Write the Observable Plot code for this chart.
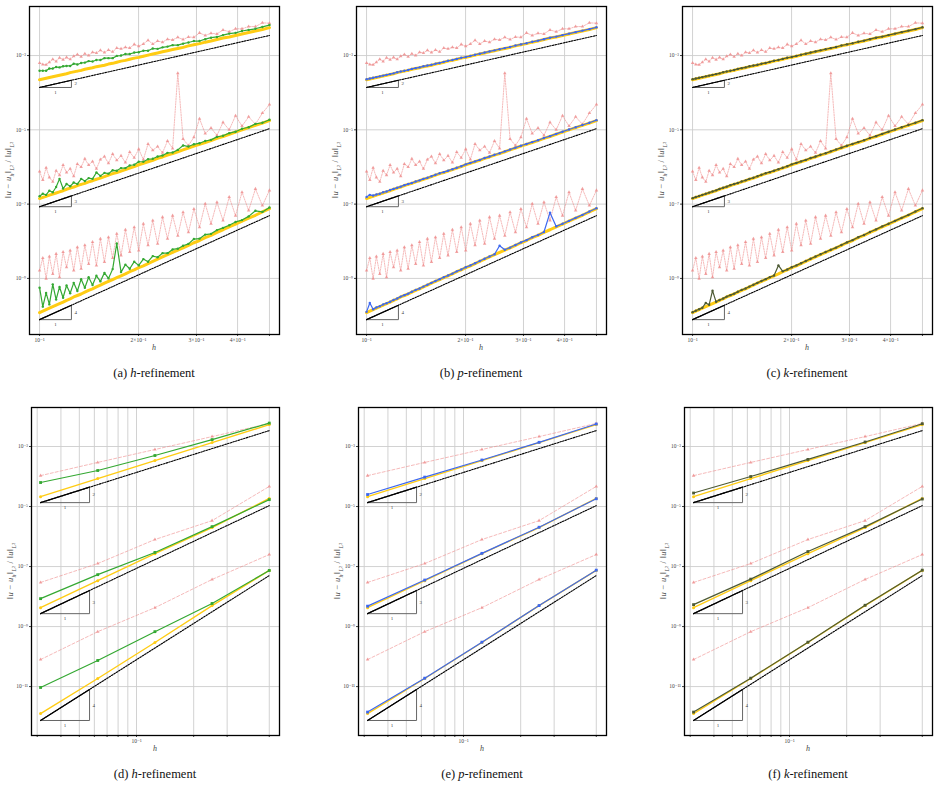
<!DOCTYPE html>
<html><head><meta charset="utf-8">
<script src="https://cdn.jsdelivr.net/npm/d3@7"></script>
<script src="https://cdn.jsdelivr.net/npm/@observablehq/plot@0.6"></script>
<style>
body{margin:0;background:#fff;}
#root{position:relative;width:939px;height:787px;font-family:"Liberation Serif","DejaVu Serif",serif;color:#222;}
.lbl{position:absolute;transform:translate(-50%,-50%);white-space:nowrap;}
.cap{font-size:12.5px;color:#111;}
.ytitle{font-size:8.5px;color:#444;letter-spacing:0.3px;}
.xtitle{font-size:8px;color:#444;font-style:italic;}
sub{font-size:70%;}
</style></head>
<body><div id="root"></div>
<script>
// ---------- top row (many h values) ----------
const hTop = [0.1000,0.1023,0.1047,0.1071,0.1097,0.1123,0.1150,0.1179,0.1208,0.1239,0.1270,0.1303,0.1338,0.1373,0.1410,0.1449,0.1489,0.1531,0.1575,0.1620,0.1668,0.1717,0.1769,0.1824,0.1880,0.1940,0.2002,0.2068,0.2137,0.2209,0.2285,0.2365,0.2449,0.2538,0.2632,0.2731,0.2836,0.2946,0.3064,0.3189,0.3321,0.3462,0.3612,0.3772,0.3943,0.4126,0.4322,0.4532,0.4758,0.5000];
// log10 of relative L2 error
const red1 = [-3.20,-3.24,-3.25,-3.18,-3.10,-3.16,-3.06,-3.11,-3.05,-3.10,-3.02,-2.97,-3.03,-2.95,-3.00,-2.91,-2.93,-2.86,-2.92,-2.85,-2.90,-2.80,-2.82,-2.78,-2.80,-2.70,-2.75,-2.69,-2.59,-2.69,-2.61,-2.64,-2.56,-2.58,-2.51,-2.57,-2.50,-2.51,-2.39,-2.46,-2.40,-2.42,-2.31,-2.36,-2.28,-2.28,-2.22,-2.22,-2.12,-2.13];
const red2 = [-6.12,-6.35,-6.02,-6.28,-6.40,-6.10,-6.22,-5.95,-6.15,-6.05,-6.25,-5.92,-6.00,-5.78,-5.95,-5.85,-6.05,-5.80,-5.72,-5.90,-5.65,-5.82,-5.70,-5.88,-5.60,-5.75,-5.52,-5.80,-5.38,-5.55,-5.45,-5.62,-5.30,-5.50,-3.48,-5.25,-5.42,-5.20,-4.70,-5.10,-4.95,-5.15,-4.80,-5.00,-4.62,-4.90,-4.65,-4.85,-4.55,-4.32];
const red3 = [-8.79,-8.45,-9.01,-8.41,-8.88,-8.34,-8.97,-8.29,-8.70,-8.25,-8.79,-8.16,-8.74,-8.11,-8.61,-8.02,-8.65,-7.93,-8.56,-7.89,-8.45,-7.80,-8.38,-7.69,-8.29,-7.62,-8.25,-7.53,-8.11,-7.44,-8.07,-7.35,-7.93,-7.31,-7.85,-7.22,-7.76,-7.13,-7.62,-6.99,-7.53,-6.95,-7.44,-6.81,-7.31,-6.68,-7.17,-6.59,-7.04,-6.63];
const yel1 = [-3.65,-3.63,-3.61,-3.59,-3.57,-3.55,-3.53,-3.51,-3.49,-3.46,-3.44,-3.42,-3.40,-3.37,-3.35,-3.33,-3.30,-3.28,-3.26,-3.23,-3.21,-3.18,-3.15,-3.13,-3.10,-3.07,-3.05,-3.02,-2.99,-2.96,-2.93,-2.90,-2.87,-2.84,-2.81,-2.78,-2.74,-2.71,-2.68,-2.64,-2.61,-2.57,-2.53,-2.50,-2.46,-2.42,-2.38,-2.34,-2.30,-2.25];
const yel2 = [-6.85,-6.82,-6.79,-6.76,-6.73,-6.70,-6.67,-6.64,-6.60,-6.57,-6.54,-6.50,-6.47,-6.44,-6.40,-6.37,-6.33,-6.30,-6.26,-6.22,-6.18,-6.15,-6.11,-6.07,-6.03,-5.99,-5.94,-5.90,-5.86,-5.82,-5.77,-5.73,-5.68,-5.64,-5.59,-5.54,-5.49,-5.44,-5.39,-5.34,-5.29,-5.23,-5.18,-5.12,-5.06,-5.00,-4.94,-4.88,-4.82,-4.75];
const yel3 = [-9.92,-9.88,-9.84,-9.80,-9.76,-9.72,-9.68,-9.64,-9.59,-9.55,-9.50,-9.46,-9.42,-9.37,-9.32,-9.28,-9.23,-9.18,-9.13,-9.08,-9.03,-8.98,-8.93,-8.88,-8.82,-8.77,-8.71,-8.66,-8.60,-8.54,-8.48,-8.42,-8.36,-8.30,-8.24,-8.18,-8.11,-8.04,-7.98,-7.90,-7.84,-7.76,-7.69,-7.61,-7.54,-7.46,-7.38,-7.30,-7.21,-7.12];
const grn1 = [-3.41,-3.41,-3.41,-3.35,-3.35,-3.31,-3.32,-3.29,-3.28,-3.28,-3.22,-3.24,-3.20,-3.19,-3.15,-3.16,-3.12,-3.12,-3.07,-3.07,-3.07,-3.01,-3.00,-2.96,-2.96,-2.92,-2.91,-2.87,-2.87,-2.81,-2.82,-2.78,-2.76,-2.72,-2.72,-2.68,-2.65,-2.61,-2.61,-2.56,-2.52,-2.50,-2.45,-2.41,-2.39,-2.34,-2.31,-2.28,-2.23,-2.18];
const grn2 = [-6.79,-6.72,-6.75,-6.64,-6.68,-6.54,-6.32,-6.58,-6.46,-6.52,-6.42,-6.46,-6.32,-6.38,-6.30,-6.32,-6.15,-6.24,-6.16,-6.18,-6.09,-6.10,-6.03,-6.03,-5.96,-5.94,-5.86,-5.86,-5.79,-5.78,-5.72,-5.69,-5.62,-5.61,-5.54,-5.42,-5.45,-5.39,-5.36,-5.30,-5.27,-5.19,-5.16,-5.09,-5.05,-4.97,-4.93,-4.84,-4.81,-4.73];
const grn3 = [-9.25,-9.76,-9.39,-9.70,-9.16,-9.57,-9.23,-9.52,-9.19,-9.40,-9.12,-9.34,-9.02,-9.25,-8.97,-9.18,-8.93,-9.08,-8.85,-9.00,-8.75,-8.06,-8.83,-8.63,-8.74,-8.55,-8.65,-8.48,-8.55,-8.40,-8.43,-8.32,-8.32,-8.22,-8.20,-8.12,-8.07,-7.94,-7.93,-7.82,-7.80,-7.70,-7.64,-7.57,-7.48,-7.43,-7.33,-7.18,-7.21,-7.09];
const blu1 = [-3.64,-3.62,-3.60,-3.58,-3.56,-3.54,-3.52,-3.50,-3.48,-3.45,-3.43,-3.41,-3.39,-3.36,-3.34,-3.32,-3.29,-3.27,-3.25,-3.22,-3.20,-3.17,-3.14,-3.12,-3.09,-3.06,-3.04,-3.01,-2.98,-2.95,-2.92,-2.89,-2.86,-2.83,-2.80,-2.77,-2.73,-2.70,-2.67,-2.63,-2.60,-2.56,-2.52,-2.49,-2.45,-2.41,-2.37,-2.33,-2.29,-2.24];
const blu2 = [-6.81,-6.75,-6.77,-6.74,-6.72,-6.68,-6.66,-6.62,-6.59,-6.56,-6.53,-6.49,-6.46,-6.43,-6.39,-6.36,-6.32,-6.29,-6.25,-6.21,-6.17,-6.14,-6.10,-6.06,-6.02,-5.98,-5.93,-5.89,-5.85,-5.81,-5.76,-5.72,-5.67,-5.63,-5.58,-5.53,-5.48,-5.43,-5.38,-5.33,-5.28,-5.22,-5.17,-5.11,-5.05,-4.99,-4.93,-4.87,-4.81,-4.74];
const blu3 = [-9.90,-9.66,-9.83,-9.78,-9.75,-9.70,-9.67,-9.63,-9.58,-9.54,-9.49,-9.45,-9.41,-9.36,-9.31,-9.27,-9.22,-9.17,-9.12,-9.07,-9.02,-8.97,-8.92,-8.87,-8.81,-8.76,-8.70,-8.65,-8.59,-8.53,-8.47,-8.41,-8.35,-8.12,-8.23,-8.17,-8.10,-8.03,-7.97,-7.89,-7.83,-7.75,-7.23,-7.60,-7.53,-7.45,-7.37,-7.29,-7.20,-7.11];
const olv1 = [-3.64,-3.62,-3.60,-3.58,-3.56,-3.54,-3.52,-3.50,-3.48,-3.45,-3.43,-3.41,-3.39,-3.36,-3.34,-3.32,-3.29,-3.27,-3.25,-3.22,-3.20,-3.17,-3.14,-3.12,-3.09,-3.06,-3.04,-3.01,-2.98,-2.95,-2.92,-2.89,-2.86,-2.83,-2.80,-2.77,-2.73,-2.70,-2.67,-2.63,-2.60,-2.56,-2.52,-2.49,-2.45,-2.41,-2.37,-2.33,-2.29,-2.24];
const olv2 = [-6.84,-6.81,-6.78,-6.75,-6.72,-6.69,-6.66,-6.63,-6.59,-6.56,-6.53,-6.49,-6.46,-6.43,-6.39,-6.36,-6.32,-6.29,-6.25,-6.21,-6.17,-6.14,-6.10,-6.06,-6.02,-5.98,-5.93,-5.89,-5.85,-5.81,-5.76,-5.72,-5.67,-5.63,-5.58,-5.53,-5.48,-5.43,-5.38,-5.33,-5.28,-5.22,-5.17,-5.11,-5.05,-4.99,-4.93,-4.87,-4.81,-4.74];
const olv3 = [-9.91,-9.87,-9.83,-9.79,-9.66,-9.71,-9.33,-9.63,-9.58,-9.54,-9.49,-9.45,-9.41,-9.36,-9.31,-9.27,-9.22,-9.17,-9.12,-9.07,-9.02,-8.97,-8.92,-8.65,-8.81,-8.76,-8.70,-8.65,-8.59,-8.53,-8.47,-8.41,-8.35,-8.29,-8.23,-8.17,-8.10,-8.03,-7.97,-7.89,-7.83,-7.75,-7.68,-7.60,-7.53,-7.45,-7.37,-7.29,-7.20,-7.11];
const refHTop = [0.1, 0.5];
const refTop1 = [-3.86, -2.46], refTop2 = [-7.07, -4.97], refTop3 = [-10.11, -7.31];
const triHTop = [0.1, 0.125];

// ---------- bottom row (h = 1/2^n) ----------
const hBot = [0.03125, 0.0625, 0.125, 0.25, 0.5];
const redB1 = [-3.97,-3.53,-3.10,-2.67,-2.23];
const redB2 = [-7.53,-6.90,-6.10,-5.47,-4.33];
const redB3 = [-10.10,-9.17,-8.37,-7.43,-6.60];
const yelB1 = [-4.67,-4.07,-3.47,-2.87,-2.27];
const yelB2 = [-8.37,-7.47,-6.57,-5.70,-4.73];
const yelB3 = [-11.90,-10.73,-9.53,-8.30,-7.13];
const grnB1 = [-4.20,-3.80,-3.30,-2.77,-2.22];
const grnB2 = [-8.07,-7.27,-6.53,-5.67,-4.77];
const grnB3 = [-11.03,-10.13,-9.17,-8.23,-7.13];
const bluB1 = [-4.60,-4.02,-3.45,-2.86,-2.25];
const bluB2 = [-8.32,-7.45,-6.56,-5.69,-4.74];
const bluB3 = [-11.85,-10.72,-9.52,-8.30,-7.12];
const olvB1 = [-4.55,-4.00,-3.43,-2.85,-2.24];
const olvB2 = [-8.27,-7.42,-6.50,-5.67,-4.75];
const olvB3 = [-11.85,-10.72,-9.52,-8.29,-7.12];
const refHBot = [0.03125, 0.5];
const refBot1 = [-4.87, -2.47], refBot2 = [-8.57, -4.97], refBot3 = [-12.13, -7.30];
const triHBot = [0.03125, 0.0566];

const slopes = [2, 3, 4];
const slopeLabels = ["2", "3", "4"];

// ticks
const xGridTop = [0.1, 0.2, 0.3, 0.4, 0.5];
const xLblTop = ["10⁻¹", "2×10⁻¹", "3×10⁻¹", "4×10⁻¹", ""];
const yTicksTop = [1e-3, 1e-5, 1e-7, 1e-9];
const yLblTop = ["10⁻³", "10⁻⁵", "10⁻⁷", "10⁻⁹"];
const xGridBot = [0.03, 0.04, 0.05, 0.06, 0.07, 0.08, 0.09, 0.1, 0.2, 0.3, 0.5];
const xLblBot = ["", "", "", "", "", "", "", "10⁻¹", "", "", ""];
const yTicksBot = [1e-3, 1e-5, 1e-7, 1e-9, 1e-11];
const yLblBot = ["10⁻³", "10⁻⁵", "10⁻⁷", "10⁻⁹", "10⁻¹¹"];

const captions = [
  ["(a) ", "h", "-refinement"], ["(b) ", "p", "-refinement"], ["(c) ", "k", "-refinement"],
  ["(d) ", "h", "-refinement"], ["(e) ", "p", "-refinement"], ["(f) ", "k", "-refinement"]
];

const COL = {red: "#ee8c8c", yel: "#ffcc14", grn: "#34a832", blu: "#3d68f0", olv: "#4d5a34"};

const root = document.getElementById("root");
const zip = (h, v) => h.map((x, j) => ({h: x, v: v[j]}));

function panel(o) {
  const ML = 28, MR = 4, MT = 4, MB = 14;
  const xMap = new Map(o.xGrid.map((d, i) => [d, o.xLbl[i]]));
  const yMap = new Map(o.yTicks.map((d, i) => [d, o.yLbl[i]]));
  const marks = [
    Plot.gridX(o.xGrid, {stroke: "#cdcdcd", strokeOpacity: 1, strokeWidth: 0.9}),
    Plot.gridY(o.yTicks, {stroke: "#cdcdcd", strokeOpacity: 1, strokeWidth: 0.9})
  ];
  o.levels.forEach((L, i) => {
    const red = zip(o.h, L.red);
    marks.push(Plot.line(red, {x: "h", y: d => 10 ** d.v, stroke: COL.red, strokeOpacity: 0.75, strokeWidth: 0.8, strokeDasharray: o.top ? "1.4,1.2" : "3,2"}));
    marks.push(Plot.dot(red, {x: "h", y: d => 10 ** d.v, symbol: "triangle", r: 1.3, fill: COL.red, fillOpacity: 0.8}));
    const ref = zip(o.refH, L.ref);
    marks.push(Plot.line(ref, {x: "h", y: d => 10 ** d.v, stroke: "#000", strokeWidth: 1.1, strokeDasharray: "1.6,1.2"}));
    const h0 = o.triH[0], h1 = o.triH[1];
    const r0 = 10 ** L.ref[0], r1 = r0 * (h1 / h0) ** slopes[i];
    marks.push(Plot.line([{h: h0, y: r0}, {h: h1, y: r0}, {h: h1, y: r1}], {x: "h", y: "y", stroke: "#666", strokeWidth: 1}));
    marks.push(Plot.line([{h: h0, y: r0}, {h: h1, y: r1}], {x: "h", y: "y", stroke: "#000", strokeWidth: 1.2}));
    marks.push(Plot.text([{h: Math.sqrt(h0 * h1), y: r0}], {x: "h", y: "y", text: () => "1", dy: 5, fontSize: 5, fill: "#444"}));
    marks.push(Plot.text([{h: h1, y: Math.sqrt(r0 * r1)}], {x: "h", y: "y", text: () => slopeLabels[i], dx: 3, textAnchor: "start", fontSize: 5, fill: "#444"}));
    const yel = zip(o.h, L.yel);
    marks.push(Plot.line(yel, {x: "h", y: d => 10 ** d.v, stroke: COL.yel, strokeWidth: o.top ? 3 : 1.4}));
    marks.push(Plot.dot(yel, {x: "h", y: d => 10 ** d.v, r: o.top ? 1 : 1.5, fill: COL.yel}));
    const col = zip(o.h, L.col);
    marks.push(Plot.line(col, {x: "h", y: d => 10 ** d.v, stroke: o.color, strokeWidth: 1.2}));
    marks.push(Plot.dot(col, {x: "h", y: d => 10 ** d.v, r: o.top ? 1.2 : 1.6, fill: o.color, symbol: o.top ? "circle" : "square"}));
  });
  marks.push(Plot.axisX(o.xGrid, {tickFormat: d => xMap.get(d) ?? "", tickSize: 2, tickPadding: 1.5, fontSize: 5.5, label: null, stroke: "#444", fill: "#444"}));
  marks.push(Plot.axisY(o.yTicks, {tickFormat: d => yMap.get(d) ?? "", tickSize: 2, tickPadding: 1.5, fontSize: 5.5, label: null, stroke: "#444", fill: "#444"}));
  marks.push(Plot.frame({stroke: "#000", strokeWidth: 1.3}));
  const svg = Plot.plot({
    width: ML + o.fw + MR, height: MT + o.fh + MB,
    marginLeft: ML, marginRight: MR, marginTop: MT, marginBottom: MB,
    x: {type: "log", domain: o.xd, label: null},
    y: {type: "log", domain: o.yd, label: null},
    style: {fontFamily: "'Liberation Serif','DejaVu Serif',serif", background: "transparent", color: "#444", overflow: "visible"},
    marks
  });
  svg.style.position = "absolute";
  svg.style.left = (o.left - ML) + "px";
  svg.style.top = (o.top0 - MT) + "px";
  root.appendChild(svg);
  // axis titles and caption
  const cx = o.left + o.fw / 2;
  const yt = document.createElement("div");
  yt.className = "lbl ytitle";
  yt.style.left = (o.left - 20) + "px";
  yt.style.top = (o.top0 + o.fh / 2) + "px";
  yt.style.transform = "translate(-50%,-50%) rotate(-90deg)";
  yt.innerHTML = "‖<i>u</i> − <i>u</i><sub><i>h</i></sub>‖<sub><i>L</i>²</sub> / ‖<i>u</i>‖<sub><i>L</i>²</sub>";
  root.appendChild(yt);
  const xt = document.createElement("div");
  xt.className = "lbl xtitle";
  xt.style.left = cx + "px";
  xt.style.top = (o.top0 + o.fh + 13) + "px";
  xt.textContent = "h";
  root.appendChild(xt);
  const cp = document.createElement("div");
  cp.className = "lbl cap";
  cp.style.left = cx + "px";
  cp.style.top = (o.top0 + o.fh + 39) + "px";
  cp.innerHTML = o.cap[0] + "<i>" + o.cap[1] + "</i>" + o.cap[2];
  root.appendChild(cp);
}

const topLevels = (c1, c2, c3) => [
  {red: red1, yel: yel1, col: c1, ref: refTop1},
  {red: red2, yel: yel2, col: c2, ref: refTop2},
  {red: red3, yel: yel3, col: c3, ref: refTop3}
];
const botLevels = (c1, c2, c3) => [
  {red: redB1, yel: yelB1, col: c1, ref: refBot1},
  {red: redB2, yel: yelB2, col: c2, ref: refBot2},
  {red: redB3, yel: yelB3, col: c3, ref: refBot3}
];
const topBase = {top: true, h: hTop, refH: refHTop, triH: triHTop, xd: [0.0932, 0.5364], yd: [10 ** -10.51, 10 ** -1.68],
  xGrid: xGridTop, xLbl: xLblTop, yTicks: yTicksTop, yLbl: yLblTop, top0: 6, fw: 250, fh: 328};
const botBase = {top: false, h: hBot, refH: refHBot, triH: triHBot, xd: [0.028, 0.566], yd: [10 ** -12.63, 10 ** -1.7],
  xGrid: xGridBot, xLbl: xLblBot, yTicks: yTicksBot, yLbl: yLblBot, top0: 407, fw: 248, fh: 328};

panel({...topBase, left: 29, levels: topLevels(grn1, grn2, grn3), color: COL.grn, cap: captions[0]});
panel({...topBase, left: 356, levels: topLevels(blu1, blu2, blu3), color: COL.blu, cap: captions[1]});
panel({...topBase, left: 682, levels: topLevels(olv1, olv2, olv3), color: COL.olv, cap: captions[2]});
panel({...botBase, left: 31, levels: botLevels(grnB1, grnB2, grnB3), color: COL.grn, cap: captions[3]});
panel({...botBase, left: 358, levels: botLevels(bluB1, bluB2, bluB3), color: COL.blu, cap: captions[4]});
panel({...botBase, left: 684, levels: botLevels(olvB1, olvB2, olvB3), color: COL.olv, cap: captions[5]});
</script>
</body></html>
